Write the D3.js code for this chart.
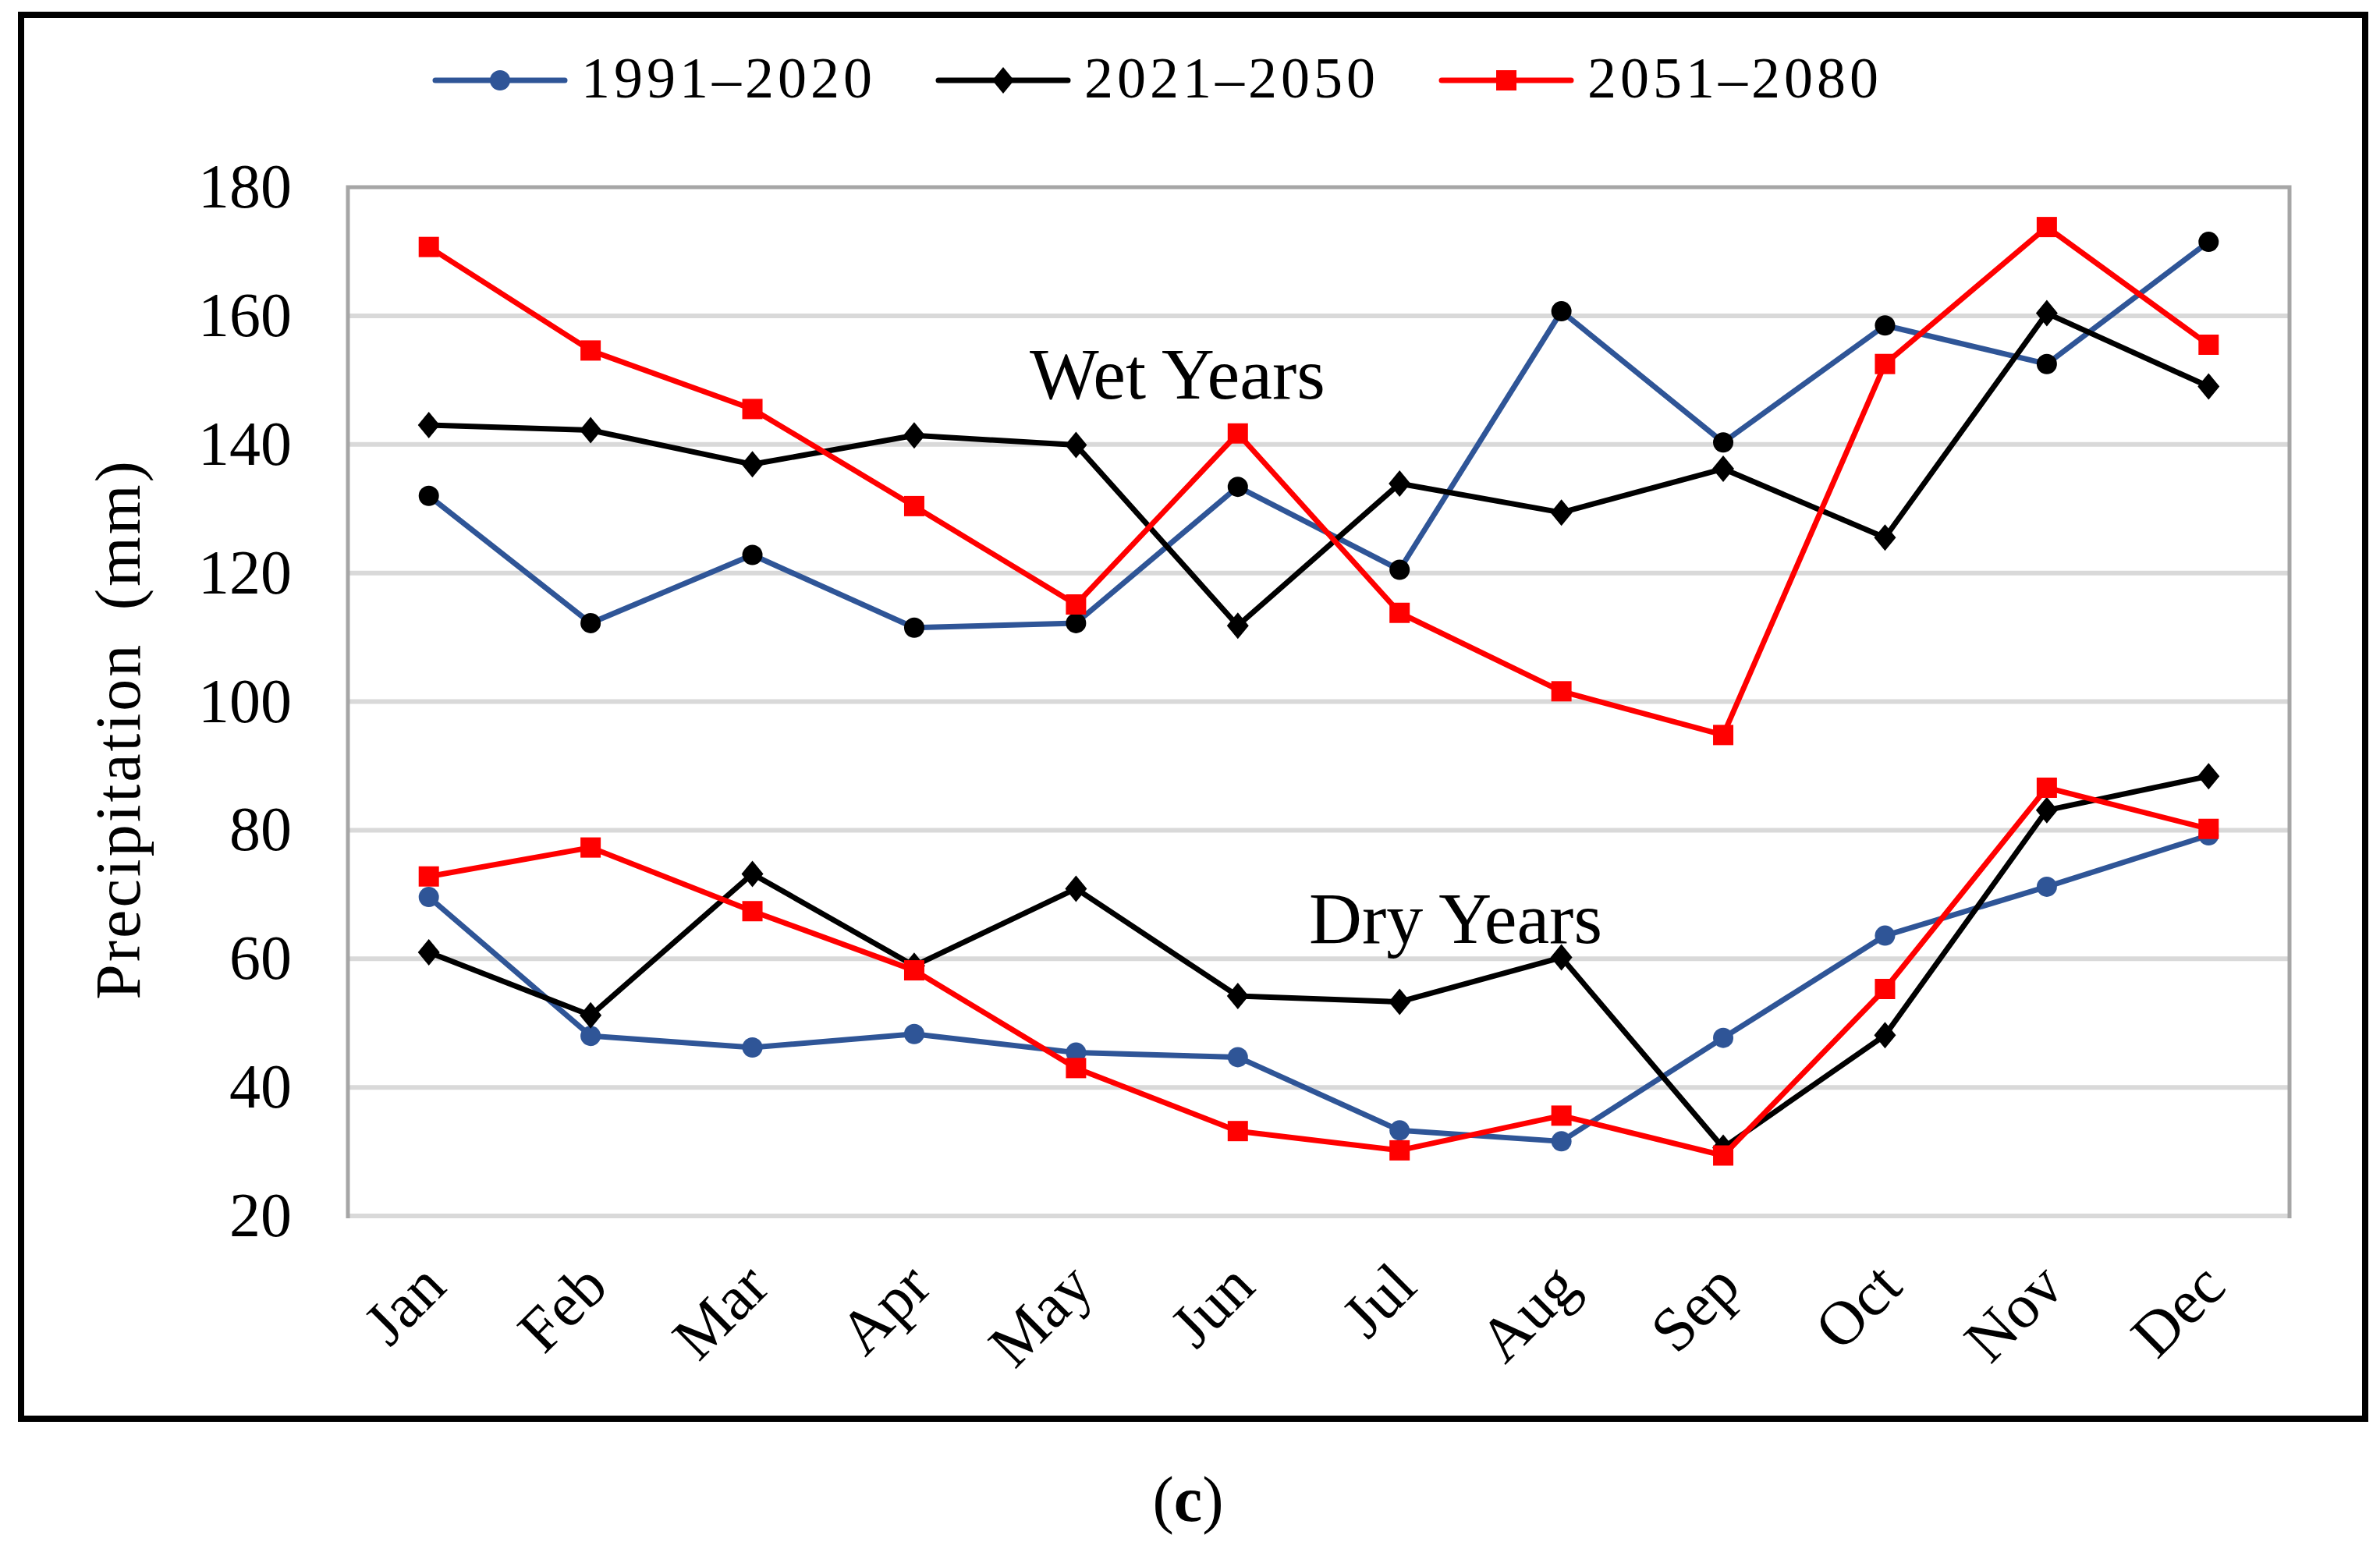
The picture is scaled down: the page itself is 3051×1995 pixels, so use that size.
<!DOCTYPE html>
<html>
<head>
<meta charset="utf-8">
<script src="https://cdn.jsdelivr.net/npm/d3@7"></script>
<style>
  html, body { margin: 0; padding: 0; background: #ffffff; }
  svg { display: block; }
  text { font-family: "Liberation Serif", "DejaVu Serif", serif; fill: #000; }
</style>
</head>
<body>
<svg id="chart" width="3051" height="1995"></svg>
<script>
// ---------- data ----------
const months = ["Jan","Feb","Mar","Apr","May","Jun","Jul","Aug","Sep","Oct","Nov","Dec"];
const seriesNames = ["1991\u20132020","2021\u20132050","2051\u20132080"];
const yTicks = [20,40,60,80,100,120,140,160,180];

// Wet years
const wet1991 = [132.0,112.2,122.8,111.5,112.2,133.4,120.5,160.7,140.3,158.5,152.5,171.5];
const wet2021 = [143.0,142.2,136.9,141.4,139.9,111.8,133.9,129.4,136.2,125.5,160.4,149.0];
const wet2051 = [170.7,154.6,145.5,130.4,115.1,141.7,113.8,101.6,94.8,152.5,173.8,155.5];
// Dry years
const dry1991 = [69.6,48.0,46.2,48.3,45.4,44.7,33.3,31.6,47.7,63.6,71.2,79.2];
const dry2021 = [61.0,51.2,73.2,58.9,70.9,54.2,53.3,60.2,30.6,48.1,83.1,88.4];
const dry2051 = [72.8,77.3,67.4,58.2,43.0,33.2,30.2,35.6,29.4,55.3,86.6,80.2];

// ---------- styles ----------
const lineColors = ["#2F5597","#000000","#FF0000"];
const wetMarkerColors = ["#000000","#000000","#FF0000"];
const dryMarkerColors = ["#2F5597","#000000","#FF0000"];
const markerTypes = ["circle","diamond","square"];

const svg = d3.select("#chart");
const L = 446, R = 2935, T = 240, B = 1559;

const x = d3.scaleBand().domain(months).range([L, R]);
const xc = m => x(m) + x.bandwidth() / 2;
const y = d3.scaleLinear().domain([20, 180]).range([B, T]);

function markerPath(type) {
  if (type === "circle") return d3.symbol(d3.symbolCircle, Math.PI * 13 * 13)();
  if (type === "square") return d3.symbol(d3.symbolSquare, 26 * 26)();
  return "M0,-17L14,0L0,17L-14,0Z";
}

// outer frame
svg.append("rect")
  .attr("x", 27).attr("y", 19).attr("width", 3005).attr("height", 1800)
  .attr("fill", "none").attr("stroke", "#000").attr("stroke-width", 8);

// gridlines
svg.append("g")
  .selectAll("line").data(yTicks.filter(d => d < 180)).join("line")
  .attr("x1", L).attr("x2", R)
  .attr("y1", d => y(d)).attr("y2", d => y(d))
  .attr("stroke", "#D9D9D9").attr("stroke-width", 6);

// plot area border (top, left, right)
svg.append("path")
  .attr("d", `M${L},${B + 3}L${L},${T}L${R},${T}L${R},${B + 3}`)
  .attr("fill", "none").attr("stroke", "#A6A6A6").attr("stroke-width", 5);

// y axis tick labels
const yAxis = d3.axisLeft(y).tickValues(yTicks).tickSize(0).tickPadding(0);
const gy = svg.append("g").attr("transform", `translate(${L - 72},0)`).call(yAxis);
gy.select(".domain").remove();
gy.selectAll("text")
  .attr("font-family", "Liberation Serif")
  .attr("font-size", 80)
  .attr("fill", "#000");

// y title
svg.append("text")
  .attr("transform", `translate(179,935) rotate(-90)`)
  .attr("text-anchor", "middle")
  .attr("font-size", 82)
  .attr("letter-spacing", 3)
  .attr("word-spacing", 18)
  .text("Precipitation (mm)");

// x axis labels
const xAxis = d3.axisBottom(x).tickSize(0).tickPadding(0);
const gx = svg.append("g").attr("transform", `translate(0,${B})`).call(xAxis);
gx.select(".domain").remove();
gx.selectAll(".tick text")
  .attr("font-family", "Liberation Serif")
  .attr("font-size", 80)
  .attr("fill", "#000")
  .attr("text-anchor", "end")
  .attr("dy", null)
  .attr("y", 0)
  .attr("dominant-baseline", "central")
  .attr("transform", "translate(6,75) rotate(-45)");

// series drawing
const line = d3.line().x((d, i) => xc(months[i])).y(d => y(d));

function drawGroup(data, markerColors) {
  data.forEach((vals, s) => {
    const g = svg.append("g");
    g.append("path").datum(vals)
      .attr("d", line)
      .attr("fill", "none")
      .attr("stroke", lineColors[s])
      .attr("stroke-width", 7)
      .attr("stroke-linejoin", "round");
    g.selectAll("path.mk").data(vals).join("path")
      .attr("class", "mk")
      .attr("d", markerPath(markerTypes[s]))
      .attr("transform", (d, i) => `translate(${xc(months[i])},${y(d)})`)
      .attr("fill", markerColors[s]);
  });
}
drawGroup([wet1991, wet2021, wet2051], wetMarkerColors);
drawGroup([dry1991, dry2021, dry2051], dryMarkerColors);

// annotations
svg.append("text").attr("x", 1320).attr("y", 511).attr("font-size", 94).text("Wet Years");
svg.append("text").attr("x", 1678).attr("y", 1209).attr("font-size", 94).text("Dry Years");

// legend
const lg = svg.append("g");
seriesNames.forEach((name, i) => {
  const x0 = 558 + i * 645;
  lg.append("line")
    .attr("x1", x0).attr("x2", x0 + 166)
    .attr("y1", 103).attr("y2", 103)
    .attr("stroke", lineColors[i]).attr("stroke-width", 7)
    .attr("stroke-linecap", "round");
  lg.append("path")
    .attr("d", markerPath(markerTypes[i]))
    .attr("transform", `translate(${x0 + 83},103)`)
    .attr("fill", lineColors[i]);
  lg.append("text")
    .attr("x", x0 + 187).attr("y", 125)
    .attr("font-size", 74)
    .attr("letter-spacing", 5)
    .text(name);
});

// caption
const cap = svg.append("text").attr("x", 1523).attr("y", 1950)
  .attr("text-anchor", "middle").attr("font-size", 82);
cap.append("tspan").text("(");
cap.append("tspan").attr("font-weight", "bold").text("c");
cap.append("tspan").text(")");
</script>
</body>
</html>
